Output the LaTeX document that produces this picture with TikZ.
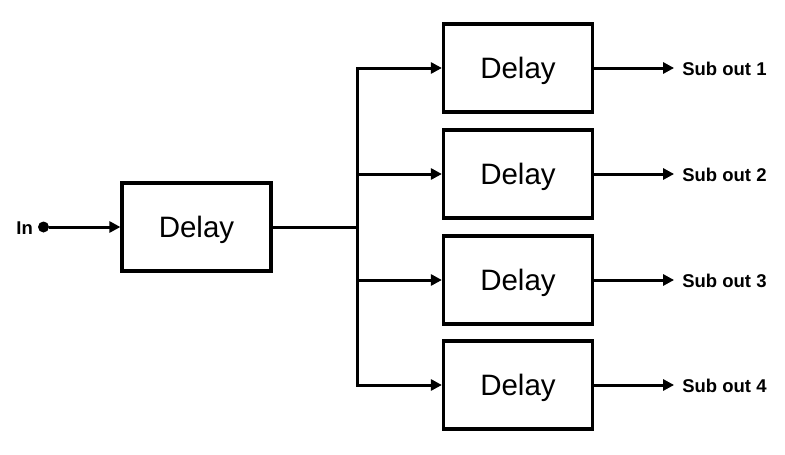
\documentclass[tikz,border=0pt]{standalone}
\usepackage{fontspec}
\setmainfont{Liberation Sans}
\usetikzlibrary{arrows.meta,calc}
\begin{document}
\begin{tikzpicture}[x=1pt,y=-1pt,
  blk/.style={draw,line width=3.2pt,minimum width=149pt,minimum height=88pt,inner sep=0pt,
    font=\fontsize{29.5}{32}\selectfont,text height=21pt,text depth=-1pt},
  lbl/.style={font=\bfseries\fontsize{18.5}{20}\selectfont,anchor=base west,inner sep=0pt},
  wire/.style={line width=3pt},
  arr/.style={line width=3pt,-{Triangle[length=11pt,width=11pt]}}]
\useasboundingbox (0,0) rectangle (785,455);
\node[blk] (d0) at (196.5,227) {Delay};
\node[blk] (d1) at (518,68) {Delay};
\node[blk] (d2) at (518,174) {Delay};
\node[blk] (d3) at (518,280) {Delay};
\node[blk] (d4) at (518,385) {Delay};
\node[circle,fill,inner sep=0pt,minimum size=11pt] (in) at (43.5,227) {};
\node[font=\bfseries\fontsize{18.5}{20}\selectfont,anchor=base east,inner sep=0pt] (inl) at (33,234) {In};
\coordinate (b0) at (357,227);
\coordinate (b1) at (357,68);
\coordinate (b2) at (357,174);
\coordinate (b3) at (357,280);
\coordinate (b4) at (357,385);
\draw[arr] (in) -- (d0.west);
\draw[wire] (d0.east) -- (b0);
\draw[wire,line cap=rect] (b1) -- (b4);
\foreach \i in {1,2,3,4}{
  \draw[arr] (b\i) -- (d\i.west);
  \coordinate (e\i) at ($(d\i.east)+(80,0)$);
  \node[lbl] (o\i) at ($(d\i.east)+(88,7)$) {Sub out \i};
  \draw[arr] (d\i.east) -- (e\i);
}
\end{tikzpicture}
\end{document}
